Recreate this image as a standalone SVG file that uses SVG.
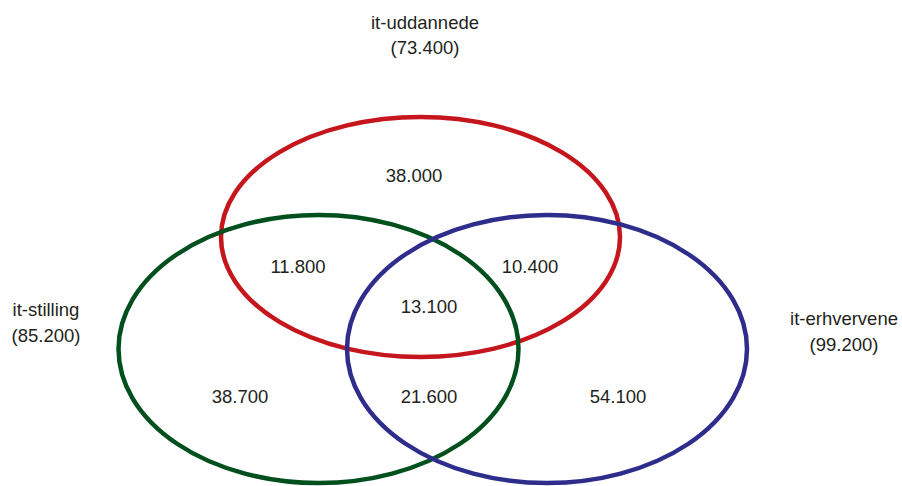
<svg xmlns="http://www.w3.org/2000/svg" width="902" height="486" viewBox="0 0 902 486">
<style>
.t{font-family:"Liberation Sans",Arial,sans-serif;font-size:18.5px;fill:#231f20;text-anchor:middle}
.e{fill:none;stroke-width:4.5}
</style>
<rect width="902" height="486" fill="#fff"/>
<g id="connectors"></g>
<g id="it-uddannede">
<ellipse class="e" cx="420.5" cy="237" rx="199.5" ry="120" stroke="#c4161c"/>
<text class="t" x="425" y="29">it-uddannede</text>
<text class="t" x="425" y="54">(73.400)</text>
</g>
<g id="it-stilling">
<ellipse class="e" cx="318.5" cy="349" rx="200" ry="134" stroke="#00501e"/>
<text class="t" x="46" y="316">it-stilling</text>
<text class="t" x="46" y="342">(85.200)</text>
</g>
<g id="it-erhvervene">
<ellipse class="e" cx="547" cy="349" rx="200" ry="134" stroke="#2e2d8c"/>
<text class="t" x="844" y="325">it-erhvervene</text>
<text class="t" x="844" y="351">(99.200)</text>
</g>
<g id="values">
<text class="t" x="414" y="182">38.000</text>
<text class="t" x="298" y="273">11.800</text>
<text class="t" x="530" y="273">10.400</text>
<text class="t" x="429" y="313">13.100</text>
<text class="t" x="240" y="403">38.700</text>
<text class="t" x="429" y="403">21.600</text>
<text class="t" x="618" y="403">54.100</text>
</g>
</svg>
